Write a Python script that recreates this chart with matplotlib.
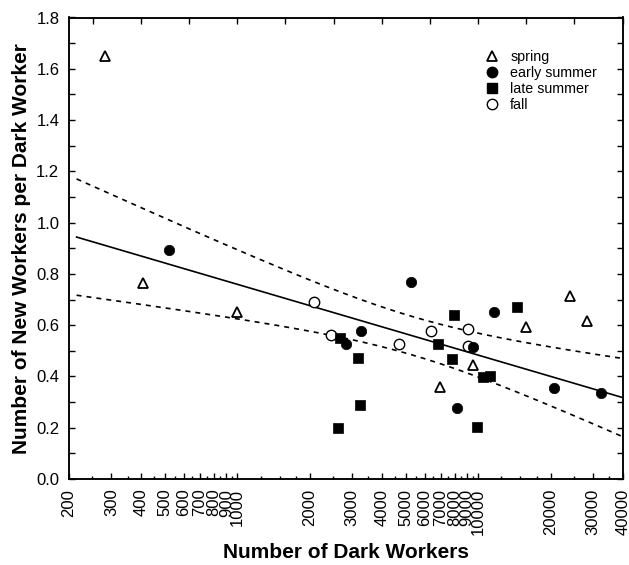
import numpy as np
import matplotlib
matplotlib.use("Agg")
import matplotlib.pyplot as plt
from matplotlib.lines import Line2D

plt.rcParams["font.family"] = ["Liberation Sans", "DejaVu Sans"]

# colony counts: dark workers (x) vs new workers per dark worker (y)
spring_x = [282, 406, 1000, 6950, 9520, 15800, 24100, 28300]
spring_y = [1.65, 0.765, 0.65, 0.358, 0.444, 0.592, 0.713, 0.615]

early_x = [520, 2830, 3260, 5270, 8170, 9530, 11640, 20660, 32400]
early_y = [0.892, 0.526, 0.577, 0.767, 0.277, 0.514, 0.651, 0.354, 0.335]

late_x = [2620, 2670, 3170, 3230, 6810, 7790, 7940, 9890, 10480, 11200, 14500]
late_y = [0.199, 0.549, 0.471, 0.288, 0.526, 0.467, 0.639, 0.203, 0.397, 0.401, 0.670]

fall_x = [2080, 2450, 4690, 6370, 9080, 9080]
fall_y = [0.690, 0.561, 0.526, 0.577, 0.584, 0.518]

x_ticks = [200, 300, 400, 500, 600, 700, 800, 900, 1000,
           2000, 3000, 4000, 5000, 6000, 7000, 8000, 9000, 10000,
           20000, 30000, 40000]
x_minor = [250, 350, 450, 550, 650, 750, 850, 950, 1250, 1500, 1750,
           2500, 3500, 4500, 5500, 6500, 7500, 8500, 9500,
           12500, 15000, 17500, 25000, 35000]
fit_range = (215, 40000)
T_975 = 2.037   # two-sided 95 %, 32 df

# --- log-linear regression with 95 % confidence band ---
all_x = np.array(spring_x + early_x + late_x + fall_x, float)
all_y = np.array(spring_y + early_y + late_y + fall_y, float)
u = np.log10(all_x)
n = len(u)
slope, icpt = np.polyfit(u, all_y, 1)
resid = all_y - (icpt + slope * u)
s = np.sqrt(np.sum(resid ** 2) / (n - 2))
sxx = np.sum((u - u.mean()) ** 2)

xs = np.logspace(np.log10(fit_range[0]), np.log10(fit_range[1]), 200)
us = np.log10(xs)
yhat = icpt + slope * us
half = T_975 * s * np.sqrt(1.0 / n + (us - u.mean()) ** 2 / sxx)

fig = plt.figure(figsize=(6.29, 5.65), dpi=100)
ax = fig.add_axes([69 / 629, 1 - 479 / 565, 554 / 629, 461.5 / 565])

ax.plot(xs, yhat, color="black", lw=1.2, zorder=2)
ax.plot(xs, yhat + half, color="black", lw=1.2, ls=(0, (3, 3)), zorder=2)
ax.plot(xs, yhat - half, color="black", lw=1.2, ls=(0, (3, 3)), zorder=2)

ms = 7.5
ax.plot(fall_x, fall_y, "o", ms=ms, mfc="white", mec="black", mew=1.0, zorder=3)
ax.plot(spring_x, spring_y, "^", ms=ms, mfc="white", mec="black", mew=1.3, zorder=3)
ax.plot(late_x, late_y, "s", ms=ms, mfc="black", mec="black", mew=0.5, zorder=4)
ax.plot(early_x, early_y, "o", ms=ms, mfc="black", mec="black", mew=0.5, zorder=5)

handles = [
    Line2D([], [], ls="none", marker="^", ms=ms, mfc="white", mec="black", mew=1.3),
    Line2D([], [], ls="none", marker="o", ms=ms, mfc="black", mec="black"),
    Line2D([], [], ls="none", marker="s", ms=ms, mfc="black", mec="black"),
    Line2D([], [], ls="none", marker="o", ms=ms, mfc="white", mec="black"),
]
ax.legend(handles, ["spring", "early summer", "late summer", "fall"],
          loc="upper left", bbox_to_anchor=(0.751, 0.93), frameon=False,
          fontsize=10.3, handlelength=1.0, handletextpad=0.75,
          labelspacing=0.15, borderpad=0, borderaxespad=0)

ax.set_xscale("log")
ax.set_xlim(200, 40000)
ax.set_ylim(0, 1.8)
ax.set_xticks(x_ticks)
ax.set_xticklabels([str(v) for v in x_ticks], rotation=90, va="top", ha="center")
ax.set_xticks(x_minor, minor=True)
ax.xaxis.set_minor_formatter(plt.NullFormatter())
ax.set_yticks(np.arange(0, 1.81, 0.2))
ax.set_yticklabels([f"{v:.1f}" for v in np.arange(0, 1.81, 0.2)])
ax.set_yticks(np.arange(0.1, 1.8, 0.2), minor=True)

ax.tick_params(axis="both", which="major", direction="in", length=4, width=1,
               labelsize=12, pad=7)
ax.tick_params(axis="both", which="minor", direction="in", length=2, width=1)
ax.tick_params(axis="y", which="both", right=True)
ax.tick_params(axis="y", which="minor", length=4)

# top edge carries its own evenly spaced log ticks
ax_top = ax.twiny()
ax_top.set_xscale("log")
ax_top.set_xlim(ax.get_xlim())
ax_top.set_xticks(10 ** np.arange(2.4, 4.61, 0.2))
ax_top.xaxis.set_minor_locator(plt.NullLocator())
ax_top.tick_params(axis="x", direction="in", length=4, width=1, labeltop=False)

for a in (ax, ax_top):
    for sp in a.spines.values():
        sp.set_linewidth(1.1)

ax.set_xlabel("Number of Dark Workers", fontsize=15, fontweight="bold", labelpad=6)
ax.set_ylabel("Number of New Workers per Dark Worker", fontsize=15,
              fontweight="bold", labelpad=4)

fig.savefig("out.png", dpi=100)
